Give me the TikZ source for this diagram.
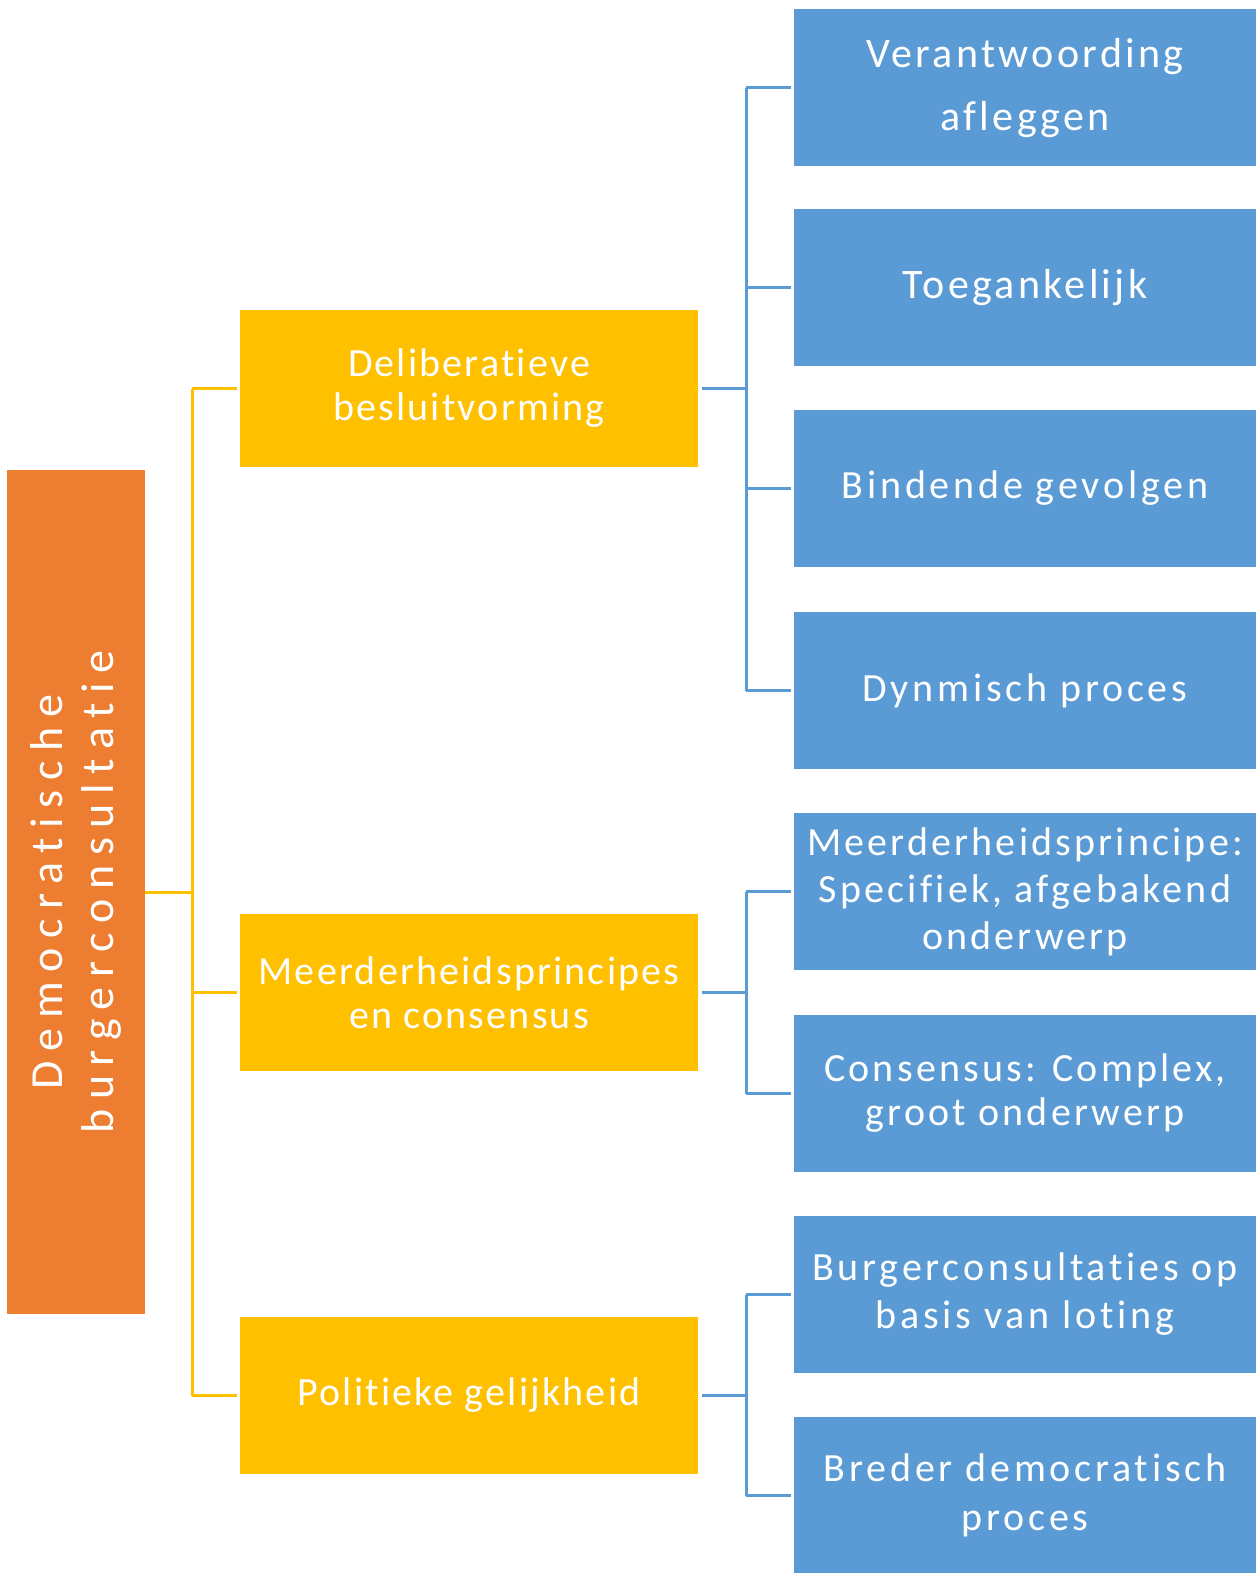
\documentclass[tikz,border=0pt]{standalone}
\usepackage{fontspec}
\setmainfont{Carlito}
\newfontfamily\rootfont[LetterSpace=21, Ligatures=NoCommon]{Carlito}
\newfontfamily\midfont[LetterSpace=5.5, Ligatures=NoCommon]{Carlito}
\newfontfamily\leaffont[LetterSpace=9.5, Ligatures=NoCommon]{Carlito}
\newfontfamily\narrowleaffont[LetterSpace=8, Ligatures=NoCommon]{Carlito}
\usepackage{tikz}
\usetikzlibrary{calc}

\definecolor{rootorange}{HTML}{ED7D31}
\definecolor{midyellow}{HTML}{FFC000}
\definecolor{leafblue}{HTML}{5B9BD5}

\begin{document}
\begin{tikzpicture}[x=1pt, y=-1pt,
		rootbox/.style={fill=rootorange, text=white, align=center, rotate=90,
			minimum width=844pt, minimum height=138pt, inner sep=0pt,
			font=\rootfont\fontsize{46}{51}\selectfont},
		midbox/.style={fill=midyellow, text=white, align=center,
			minimum width=458pt, minimum height=157pt, inner sep=0pt,
			font=\midfont\fontsize{40}{44}\selectfont},
		leafbox/.style={fill=leafblue, text=white, align=center,
			minimum width=462pt, minimum height=157pt, inner sep=0pt,
			font=\leaffont\fontsize{40}{47}\selectfont},
		yline/.style={draw=midyellow, line width=3pt},
		bline/.style={draw=leafblue, line width=3pt}]

			\useasboundingbox[fill=white] (0,0) rectangle (1256,1573);

			% root
			\node[rootbox] (root) at (76,892) {Democratische\\burgerconsultatie};

			% middle level
			\node[midbox] (delib) at (469,388.5) {Deliberatieve\\besluitvorming};
			\node[midbox] (meerd) at (469,992.5) {Meerderheidsprincipes\\en consensus};
			\node[midbox] (polit) at (469,1395.5) {Politieke gelijkheid};

			% leaves
			\node[leafbox, font=\narrowleaffont\fontsize{42}{63}\selectfont] (verant) at (1025,88) {Verantwoording\\afleggen};
			\node[leafbox, font=\narrowleaffont\fontsize{42}{47}\selectfont] (toeg) at (1025,287.5) {Toegankelijk};
			\node[leafbox] (bind) at (1025,488.5) {Bindende gevolgen};
			\node[leafbox] (dyn) at (1025,690.5) {Dynmisch proces};
			\node[leafbox, font=\narrowleaffont\fontsize{40}{47}\selectfont] (mprin) at (1025,891.5) {Meerderheidsprincipe:\\Specifiek, afgebakend\\onderwerp};
			\node[leafbox, font=\narrowleaffont\fontsize{40}{44}\selectfont] (cons) at (1025,1093.5) {Consensus: Complex,\\groot onderwerp};
			\node[leafbox, font=\leaffont\fontsize{40}{48}\selectfont] (burg) at (1025,1294.5) {Burgerconsultaties op\\basis van loting};
			\node[leafbox, font=\leaffont\fontsize{40}{49}\selectfont] (bred) at (1025,1495.5) {Breder democratisch\\proces};

			\coordinate (ytrunk) at (192,892);
			\coordinate (btrunk) at (746,0);

			\begin{scope}[yline]
				\draw (root.south) -- (ytrunk);
				\draw (ytrunk |- delib.west) -- (ytrunk |- polit.west);
				\foreach \m in {delib,meerd,polit}
				{
					\draw (ytrunk |- \m.west) -- ([xshift=-3pt]\m.west);
				}
			\end{scope}

			\begin{scope}[bline]
				\draw ([xshift=4pt]delib.east) -- (btrunk |- delib.east);
				\draw (btrunk |- verant.west) -- (btrunk |- dyn.west);
				\foreach \l in {verant,toeg,bind,dyn}
				{
					\draw (btrunk |- \l.west) -- ([xshift=-3pt]\l.west);
				}

				\draw ([xshift=4pt]meerd.east) -- (btrunk |- meerd.east);
				\draw (btrunk |- mprin.west) -- (btrunk |- cons.west);
				\foreach \l in {mprin,cons}
				{
					\draw (btrunk |- \l.west) -- ([xshift=-3pt]\l.west);
				}

				\draw ([xshift=4pt]polit.east) -- (btrunk |- polit.east);
				\draw (btrunk |- burg.west) -- (btrunk |- bred.west);
				\foreach \l in {burg,bred}
				{
					\draw (btrunk |- \l.west) -- ([xshift=-3pt]\l.west);
				}
			\end{scope}
		\end{tikzpicture}
\end{document}
